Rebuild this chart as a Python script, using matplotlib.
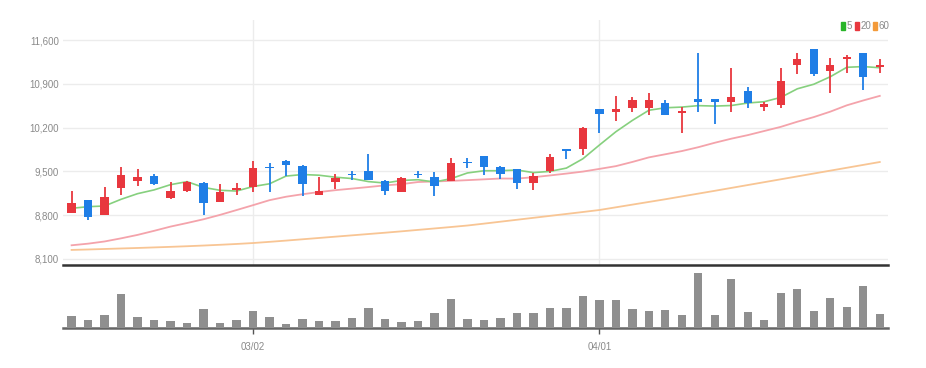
import matplotlib
matplotlib.use("Agg")
import matplotlib.pyplot as plt
from matplotlib.patches import Rectangle

# daily candles (KRW)
opens = [8840, 9040, 8810, 9240, 9350, 9425, 9075, 9190, 9320, 9015,
         9205, 9245, 9565, 9670, 9585, 9120, 9335, 9460, 9510, 9350,
         9170, 9465, 9415, 9350, 9650, 9745, 9565, 9535, 9310, 9505,
         9855, 9855, 10490, 10455, 10510, 10510, 10590, 10440, 10650, 10650,
         10605, 10790, 10535, 10560, 11200, 11450, 11110, 11290, 11395, 11165]
highs = [9190, 9050, 9245, 9575, 9535, 9455, 9335, 9350, 9330, 9295,
         9310, 9670, 9630, 9675, 9600, 9415, 9455, 9510, 9780, 9360,
         9405, 9510, 9495, 9710, 9710, 9750, 9585, 9540, 9470, 9780,
         9860, 10205, 10495, 10705, 10695, 10760, 10640, 10535, 11395, 10652,
         11145, 10855, 10615, 11145, 11395, 11455, 11305, 11360, 11400, 11290]
lows = [8830, 8720, 8800, 9125, 9265, 9285, 9065, 9175, 8805, 9005,
        9125, 9175, 9175, 9425, 9105, 9115, 9215, 9360, 9360, 9120,
        9170, 9390, 9105, 9345, 9550, 9440, 9375, 9215, 9200, 9470,
        9695, 9760, 10110, 10305, 10455, 10405, 10400, 10110, 10455, 10250,
        10455, 10510, 10470, 10510, 11055, 11025, 10750, 11065, 10800, 11065]
closes = [9000, 8770, 9095, 9450, 9405, 9300, 9190, 9335, 8990, 9175,
          9240, 9550, 9555, 9605, 9300, 9185, 9390, 9450, 9360, 9185,
          9390, 9450, 9265, 9630, 9640, 9565, 9455, 9320, 9425, 9735,
          9830, 10200, 10415, 10490, 10640, 10640, 10400, 10470, 10605, 10605,
          10685, 10600, 10575, 10950, 11290, 11050, 11200, 11330, 11005, 11200]

ma5 = [8910, 8936, 8947, 9054, 9144, 9204, 9288, 9336, 9244, 9198,
       9186, 9258, 9302, 9425, 9450, 9439, 9407, 9386, 9337, 9314,
       9355, 9367, 9330, 9384, 9475, 9510, 9511, 9522, 9481, 9500,
       9553, 9702, 9921, 10134, 10315, 10477, 10517, 10528, 10551, 10544,
       10553, 10593, 10614, 10683, 10820, 10893, 11013, 11164, 11175, 11157]
ma20 = [8319, 8345, 8380, 8430, 8485, 8550, 8618, 8675, 8735, 8805,
        8882, 8960, 9040, 9095, 9135, 9170, 9200, 9225, 9250, 9277,
        9296, 9330, 9339, 9348, 9360, 9373, 9386, 9385, 9407, 9435,
        9465, 9497, 9540, 9584, 9651, 9724, 9774, 9825, 9887, 9958,
        10023, 10080, 10146, 10212, 10294, 10368, 10455, 10556, 10634, 10707]
ma60 = [8245, 8252, 8260, 8268, 8276, 8285, 8294, 8304, 8315, 8327,
        8340, 8355, 8374, 8394, 8415, 8436, 8457, 8478, 8499, 8520,
        8542, 8565, 8588, 8611, 8635, 8665, 8696, 8727, 8758, 8789,
        8820, 8851, 8883, 8926, 8969, 9012, 9055, 9100, 9145, 9190,
        9236, 9282, 9328, 9374, 9420, 9466, 9512, 9558, 9604, 9650]

volumes = [117, 84, 134, 344, 110, 84, 67, 54, 194, 50,
           77, 167, 110, 44, 94, 67, 67, 100, 204, 94,
           60, 67, 150, 287, 94, 84, 104, 154, 150, 204,
           204, 320, 284, 277, 194, 170, 184, 134, 554, 134,
           494, 160, 84, 354, 394, 170, 304, 210, 417, 144]

tick_idx = [11, 32]
tick_labels = ["03/02", "04/01"]
price_ticks = [8100, 8800, 9500, 10200, 10900, 11600]
legend_labels = ["5", "20", "60"]

UP, DOWN = "#e8373e", "#1f7ee6"
MA_COLORS = ["#86d07e", "#f4a3ab", "#f8c594"]
LEGEND_COLORS = ["#28b428", "#e8373e", "#f39a3a"]
GRID = "#ececec"
LABEL = "#8a8a8a"
FONT = ["Liberation Sans Narrow", "Liberation Sans", "DejaVu Sans"]
plt.rcParams["font.family"] = FONT

fig = plt.figure(figsize=(9.26, 3.68), dpi=100)
ax = fig.add_axes([0.0684, 0.2799, 0.8906, 0.6658])
vax = fig.add_axes([0.0684, 0.1087, 0.8906, 0.163], sharex=ax)

x = list(range(len(closes)))
colors = [UP if c >= o else DOWN for o, c in zip(opens, closes)]

ax.plot(x, ma60, color=MA_COLORS[2], lw=1.3, zorder=2)
ax.plot(x, ma20, color=MA_COLORS[1], lw=1.3, zorder=2)
ax.plot(x, ma5, color=MA_COLORS[0], lw=1.2, zorder=2)

ax.vlines(x, lows, highs, colors=colors, lw=1.3, zorder=3)
bottoms = [min(o, c) for o, c in zip(opens, closes)]
heights = [max(abs(c - o), 16) for o, c in zip(opens, closes)]
ax.bar(x, heights, bottom=bottoms, width=0.5, color=colors, zorder=4)

ax.set_xlim(-0.5, len(closes) - 0.5)
ax.set_ylim(8004, 11920)
ax.set_yticks(price_ticks)
ax.set_yticklabels([f"{v:,}" for v in price_ticks])
ax.tick_params(axis="y", length=0, pad=3, labelsize=7, labelcolor=LABEL)
ax.tick_params(axis="x", length=0, labelbottom=False)
ax.set_xticks(tick_idx)
ax.grid(True, color=GRID, lw=1)
ax.set_axisbelow(True)
for s in ("top", "left", "right"):
    ax.spines[s].set_visible(False)
ax.spines["bottom"].set_color("#333333")
ax.spines["bottom"].set_linewidth(1.8)

vax.bar(x, volumes, width=0.5, color="#8f8f8f", zorder=3)
vax.set_ylim(0, 600)
vax.set_yticks([])
vax.set_xticks(tick_idx)
vax.set_xticklabels(tick_labels)
vax.tick_params(axis="x", length=4, width=1, color="#555555", pad=6,
                labelsize=7, labelcolor=LABEL)
for s in ("top", "left", "right"):
    vax.spines[s].set_visible(False)
vax.spines["bottom"].set_color("#666666")
vax.spines["bottom"].set_linewidth(1.8)

# legend: coloured squares + period labels, top right
lx = 0.9079
for lab, col in zip(legend_labels, LEGEND_COLORS):
    fig.patches.append(Rectangle((lx, 0.9198), 0.0043, 0.0217, transform=fig.transFigure,
                                 color=col, figure=fig))
    fig.text(lx + 0.0058, 0.9307, lab, fontsize=7, color=LABEL, va="center", ha="left")
    lx += 0.0058 + 0.0048 * len(lab) + 0.0045

fig.savefig("out.png", dpi=100)
